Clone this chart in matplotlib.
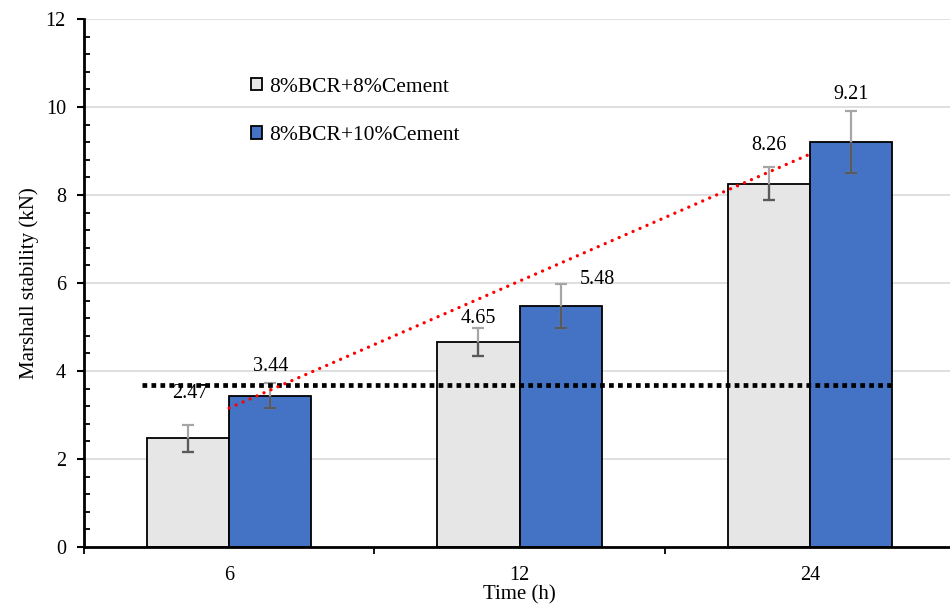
import numpy as np
import matplotlib
matplotlib.use("Agg")
import matplotlib.pyplot as plt
from matplotlib.ticker import MultipleLocator

categories = ["6", "12", "24"]
series_names = ["8%BCR+8%Cement", "8%BCR+10%Cement"]
values_8 = [2.47, 4.65, 8.26]
values_10 = [3.44, 5.48, 9.21]
err_8 = [0.30, 0.32, 0.37]
err_10 = [0.28, 0.50, 0.70]
ref_line = 3.68

plt.rcParams['font.family'] = ['Liberation Serif', 'DejaVu Serif']

fig = plt.figure(figsize=(9.5, 6.08), dpi=100)
ax = fig.add_axes([84/950, 1-547/608, (955-84)/950, (547-19)/608])

x = np.arange(len(categories))
w = 0.283
colors = ["#e7e6e6", "#4472c4"]
series = [values_8, values_10]
errs = [err_8, err_10]
offsets = [[(2, 45), (0, 24), (0, 38)], [(0, 29), (37, 26), (0, 47)]]

for i, (vals, er) in enumerate(zip(series, errs)):
    xs = x + (i - 0.5) * w
    bars = ax.bar(xs, vals, w, color=colors[i], edgecolor="black", linewidth=1.3,
                  label=series_names[i], zorder=2)
    for j, b in enumerate(bars):
        for col, clip in (("#a6a6a6", False), ("#5a5a5a", True)):
            eb = ax.errorbar(xs[j], vals[j], yerr=er[j], fmt="none", ecolor=col,
                             elinewidth=1.6, capsize=4, capthick=1.6, zorder=3)
            if clip:
                for art in list(eb.lines[1]) + list(eb.lines[2]):
                    art.set_clip_path(b)
        ax.annotate(f"{vals[j]:.2f}", (xs[j], vals[j]), xytext=offsets[i][j],
                    textcoords="offset pixels", ha="center", va="center",
                    fontsize=14.5, zorder=5)

# reference line
ax.plot([-0.3, 2.28], [ref_line, ref_line], color="black", linewidth=3.4,
        linestyle=(0, (1, 0.9)), dash_capstyle="butt", zorder=4)

# linear trendline of the second series
coef = np.polyfit(x, values_10, 1)
ax.plot(x, np.polyval(coef, x), color="#ff0000", linewidth=2.4,
        linestyle=(0, (0.01, 2.27)), dash_capstyle="round", zorder=4)

ax.set_xlim(-0.5, 2.5)
ax.set_ylim(0, 12)
ax.set_xticks(x)
ax.set_xticklabels(categories, fontsize=14.5)
ax.set_xticks([-0.5, 0.5, 1.5, 2.5], minor=True)
ax.tick_params(axis="x", which="major", length=0, pad=14)
ax.tick_params(axis="x", which="minor", length=5, width=1.3, direction="out")
ax.yaxis.set_major_locator(MultipleLocator(2))
ax.yaxis.set_minor_locator(MultipleLocator(0.4))
ax.tick_params(axis="y", which="major", length=5, width=1.5, direction="out", labelsize=14.5, pad=8)
ax.tick_params(axis="y", which="minor", length=4, width=1.3, direction="in")
ax.grid(axis="y", color="#d9d9d9", linewidth=1.2, zorder=0)
ax.set_axisbelow(True)
for s in ("top", "right"):
    ax.spines[s].set_visible(False)
for s in ("left", "bottom"):
    ax.spines[s].set_linewidth(2)

ax.set_ylabel("Marshall stability (kN)", fontsize=15, labelpad=5)
ax.set_xlabel("Time (h)", fontsize=15, labelpad=0)

leg = ax.legend(loc="upper left", bbox_to_anchor=(0.17, 0.925), frameon=False,
                fontsize=15.5, handlelength=0.5, handleheight=0.5, handletextpad=0.3,
                labelspacing=1.35)

fig.savefig("out.png", dpi=100)
